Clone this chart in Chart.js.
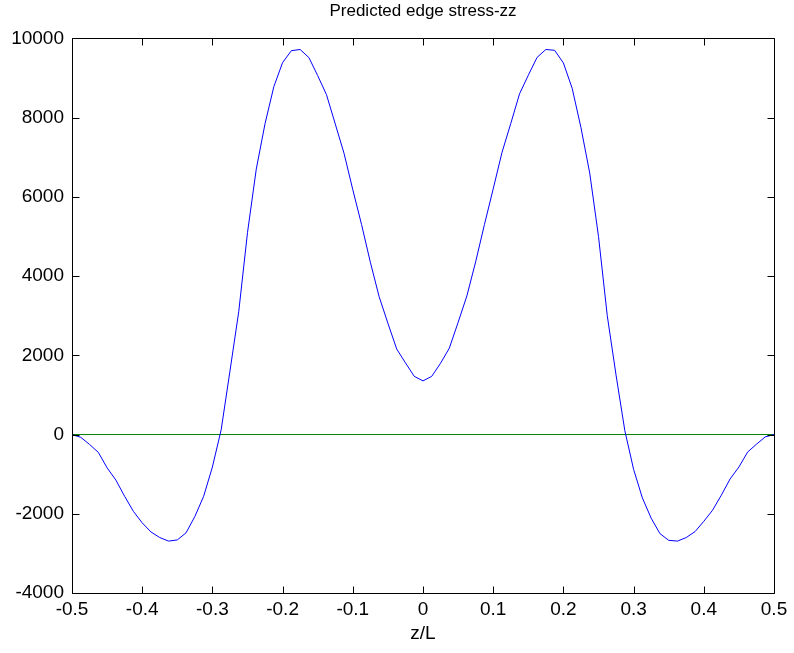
<!DOCTYPE html>
<html>
<head>
<meta charset="utf-8">
<title>Predicted edge stress-zz</title>
<script src="https://cdn.jsdelivr.net/npm/chart.js@4.4.1/dist/chart.umd.min.js"></script>
<style>
  html, body { margin: 0; padding: 0; background: #ffffff; }
  #wrap { width: 794px; height: 653px; }
</style>
</head>
<body>
<div id="wrap"><canvas id="plot" width="794" height="653"></canvas></div>
<script>
// Normalised position along the edge (z/L)
const zOverL = [
  -0.5, -0.4875, -0.475, -0.4625, -0.45, -0.4375, -0.425, -0.4125, -0.4, -0.3875,
  -0.375, -0.3625, -0.35, -0.3375, -0.325, -0.3125, -0.3, -0.2875, -0.275, -0.2625,
  -0.25, -0.2375, -0.225, -0.2125, -0.2, -0.1875, -0.175, -0.1625, -0.15, -0.1375,
  -0.125, -0.1125, -0.1, -0.0875, -0.075, -0.0625, -0.05, -0.0375, -0.025, -0.0125,
  0,
  0.0125, 0.025, 0.0375, 0.05, 0.0625, 0.075, 0.0875, 0.1, 0.1125, 0.125,
  0.1375, 0.15, 0.1625, 0.175, 0.1875, 0.2, 0.2125, 0.225, 0.2375, 0.25,
  0.2625, 0.275, 0.2875, 0.3, 0.3125, 0.325, 0.3375, 0.35, 0.3625, 0.375,
  0.3875, 0.4, 0.4125, 0.425, 0.4375, 0.45, 0.4625, 0.475, 0.4875, 0.5
];

// Predicted edge stress sigma_zz at each position
const stressZZ = [
  0, -70, -250, -450, -840, -1150, -1560, -1940, -2230, -2460,
  -2600, -2690, -2660, -2480, -2070, -1560, -820, 120, 1600, 3100,
  5100, 6700, 7850, 8780, 9390, 9690, 9720, 9515, 9060, 8580,
  7840, 7100, 6180, 5300, 4350, 3480, 2810, 2160, 1810, 1470,
  1354,
  1470, 1800, 2180, 2830, 3500, 4360, 5300, 6200, 7120, 7850,
  8600, 9070, 9520, 9720, 9700, 9380, 8740, 7750, 6600, 5000,
  3000, 1500, 100, -880, -1600, -2110, -2500, -2670, -2690, -2600,
  -2450, -2190, -1910, -1530, -1120, -820, -440, -245, -60, 0
];

// Zero reference line
const zeroLineZ = [-0.5, 0.5];
const zeroLineS = [0, 0];

// Axis ranges and tick spacing
const xRange = [-0.5, 0.5];
const xStep = 0.1;
const yRange = [-4000, 10000];
const yStep = 2000;

const FONT = '"Liberation Sans", Arial, Helvetica, sans-serif';

const toPoints = (xs, ys) => xs.map((x, i) => ({ x: x, y: ys[i] }));

// Box round the axes with inward tick marks on all four sides
const axesBox = {
  id: 'axesBox',
  afterDraw(chart) {
    const { ctx, chartArea: a, scales } = chart;
    const len = 7;
    ctx.save();
    ctx.strokeStyle = '#000000';
    ctx.lineWidth = 1;
    ctx.beginPath();
    const L = Math.round(a.left) + 0.5, R = Math.round(a.right) + 0.5;
    const T = Math.round(a.top) + 0.5, B = Math.round(a.bottom) + 0.5;
    ctx.rect(L, T, R - L, B - T);
    scales.x.ticks.forEach(t => {
      const px = Math.round(scales.x.getPixelForValue(t.value)) + 0.5;
      ctx.moveTo(px, B); ctx.lineTo(px, B - len);
      ctx.moveTo(px, T); ctx.lineTo(px, T + len);
    });
    scales.y.ticks.forEach(t => {
      const py = Math.round(scales.y.getPixelForValue(t.value)) + 0.5;
      ctx.moveTo(L, py); ctx.lineTo(L + len, py);
      ctx.moveTo(R, py); ctx.lineTo(R - len, py);
    });
    ctx.stroke();
    ctx.restore();
  }
};

new Chart(document.getElementById('plot'), {
  type: 'line',
  data: {
    datasets: [
      {
        data: toPoints(zOverL, stressZZ),
        borderColor: 'rgb(0,0,255)',
        borderWidth: 1,
        pointRadius: 0,
        tension: 0,
        fill: false
      },
      {
        data: toPoints(zeroLineZ, zeroLineS),
        borderColor: 'rgb(0,128,0)',
        borderWidth: 1,
        pointRadius: 0,
        tension: 0,
        fill: false
      }
    ]
  },
  options: {
    responsive: false,
    animation: false,
    events: [],
    layout: { padding: { left: 0, right: 20, top: 0, bottom: 0 } },
    plugins: {
      legend: { display: false },
      tooltip: { enabled: false },
      title: {
        display: true,
        text: 'Predicted edge stress-zz',
        color: '#000000',
        fullSize: false,
        font: { family: FONT, size: 17, weight: 'normal' },
        padding: { top: 1, bottom: 17 }
      }
    },
    scales: {
      x: {
        type: 'linear',
        min: xRange[0],
        max: xRange[1],
        afterFit(scale) { scale.height = 60; },
        afterBuildTicks(scale) {
          const ticks = [];
          for (let v = xRange[0]; v <= xRange[1] + 1e-9; v += xStep) {
            ticks.push({ value: Math.round(v * 10) / 10 });
          }
          scale.ticks = ticks;
        },
        ticks: {
          color: '#000000',
          font: { family: FONT, size: 19 },
          padding: 5,
          maxRotation: 0,
          autoSkip: false,
          callback: v => (Math.round(v * 10) / 10).toString()
        },
        grid: { display: false, drawTicks: false },
        border: { display: false },
        title: {
          display: true,
          text: 'z/L',
          color: '#000000',
          font: { family: FONT, size: 19 },
          padding: { top: 0, bottom: 8 }
        }
      },
      y: {
        type: 'linear',
        min: yRange[0],
        max: yRange[1],
        afterFit(scale) { scale.width = 72; },
        ticks: {
          stepSize: yStep,
          color: '#000000',
          font: { family: FONT, size: 19 },
          padding: 8,
          autoSkip: false,
          callback: v => v.toString()
        },
        grid: { display: false, drawTicks: false },
        border: { display: false }
      }
    }
  },
  plugins: [axesBox]
});
</script>
</body>
</html>
